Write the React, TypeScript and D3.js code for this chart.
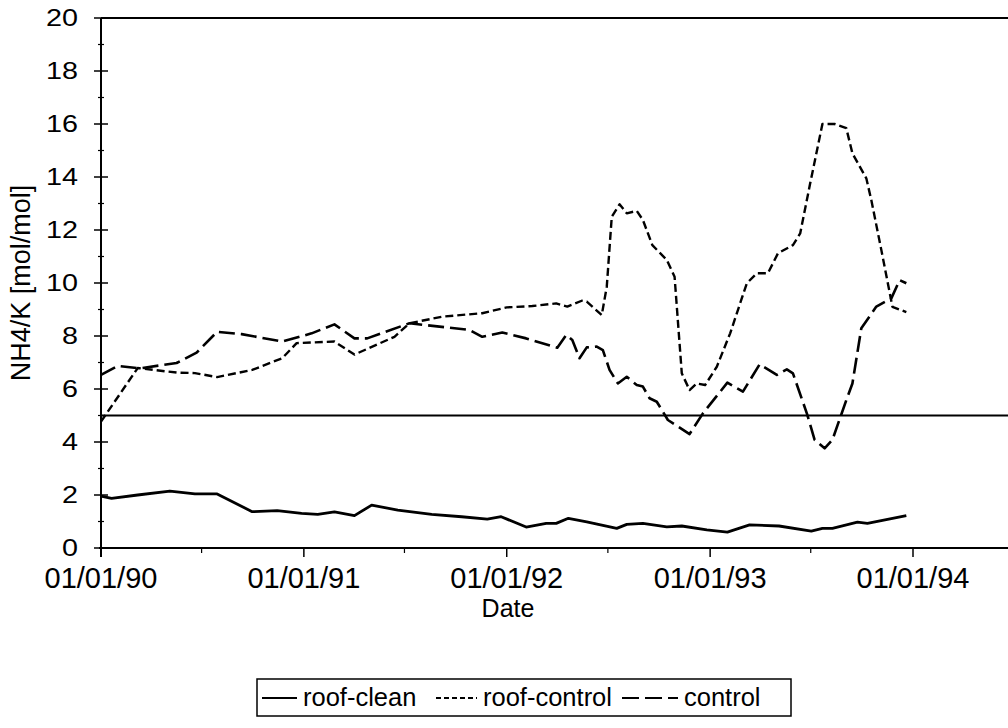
import React from "react";
import * as d3 from "d3";

const roofCleanDates = ["1990-01-01","1990-01-20","1990-03-08","1990-05-05","1990-06-19","1990-07-29","1990-09-30","1990-11-14","1990-12-28","1991-01-26","1991-02-25","1991-04-02","1991-05-03","1991-06-19","1991-08-19","1991-10-12","1991-11-27","1991-12-22","1992-02-05","1992-03-12","1992-03-30","1992-04-21","1992-05-24","1992-07-17","1992-08-04","1992-09-02","1992-10-15","1992-11-11","1992-12-26","1993-02-01","1993-03-13","1993-05-05","1993-07-02","1993-07-22","1993-08-09","1993-09-23","1993-10-11","1993-12-20"];
const roofCleanValues = [1.96,1.87,2.0,2.15,2.04,2.04,1.37,1.41,1.31,1.27,1.36,1.22,1.62,1.43,1.27,1.18,1.09,1.18,0.79,0.93,0.93,1.12,0.99,0.74,0.89,0.93,0.8,0.83,0.68,0.6,0.87,0.83,0.64,0.74,0.74,0.98,0.93,1.22];

const roofControlDates = ["1990-01-01","1990-03-08","1990-05-17","1990-06-19","1990-07-29","1990-09-30","1990-11-23","1990-12-19","1991-02-25","1991-04-02","1991-06-13","1991-07-10","1991-09-07","1991-11-18","1992-01-01","1992-02-16","1992-03-30","1992-04-19","1992-05-15","1992-05-24","1992-06-20","1992-06-29","1992-07-08","1992-07-22","1992-08-04","1992-08-22","1992-09-02","1992-09-19","1992-10-15","1992-10-29","1992-11-11","1992-11-25","1992-12-08","1992-12-23","1993-01-13","1993-02-06","1993-03-08","1993-03-26","1993-04-15","1993-05-03","1993-05-30","1993-06-12","1993-06-30","1993-07-22","1993-08-13","1993-09-03","1993-09-14","1993-10-09","1993-10-18","1993-11-05","1993-11-25","1993-12-20"];
const roofControlValues = [4.77,6.79,6.62,6.6,6.45,6.72,7.16,7.73,7.79,7.3,7.97,8.48,8.73,8.86,9.08,9.13,9.23,9.11,9.33,9.3,8.79,9.86,12.5,12.97,12.63,12.72,12.38,11.43,10.87,10.24,6.59,5.96,6.21,6.15,6.84,8.1,9.99,10.37,10.37,11.12,11.43,11.87,13.76,16.0,16.0,15.84,14.89,13.95,13.13,11.25,9.1,8.9];

const controlDates = ["1990-01-01","1990-01-31","1990-03-12","1990-05-17","1990-06-22","1990-07-29","1990-09-11","1990-11-23","1991-01-15","1991-02-25","1991-04-02","1991-04-25","1991-07-10","1991-10-26","1991-11-18","1991-12-24","1992-02-05","1992-04-01","1992-04-17","1992-04-28","1992-05-11","1992-05-24","1992-06-11","1992-06-22","1992-07-04","1992-07-19","1992-08-04","1992-08-22","1992-09-02","1992-09-14","1992-09-27","1992-10-17","1992-11-25","1992-12-19","1993-02-01","1993-03-01","1993-03-31","1993-05-01","1993-05-19","1993-05-30","1993-06-24","1993-07-08","1993-07-26","1993-08-09","1993-09-03","1993-09-14","1993-09-30","1993-10-27","1993-11-23","1993-12-08","1993-12-20"];
const controlValues = [6.53,6.87,6.78,6.98,7.37,8.16,8.07,7.79,8.1,8.44,7.91,7.91,8.48,8.23,7.97,8.13,7.91,7.56,8.04,7.85,7.16,7.57,7.6,7.47,6.72,6.21,6.46,6.15,6.09,5.65,5.52,4.83,4.3,5.08,6.24,5.9,6.93,6.53,6.74,6.59,5.08,4.08,3.76,4.08,5.58,6.21,8.29,9.11,9.42,10.11,9.99];

const xTickLabels = ["01/01/90", "01/01/91", "01/01/92", "01/01/93", "01/01/94"];
const yTickValues = [0, 2, 4, 6, 8, 10, 12, 14, 16, 18, 20];
const thresholdValue = 5;
const seriesNames = ["roof-clean", "roof-control", "control"];

const parse = d3.timeParse("%Y-%m-%d");
const FONT = "'Liberation Sans', Arial, sans-serif";

export default function App() {
  const W = 1008, H = 728;
  const left = 101, top = 18, bottom = 548, right = 1008;
  const x = d3.scaleTime().domain([parse("1990-01-01")!, parse("1994-01-01")!]).range([left, 913]);
  const y = d3.scaleLinear().domain([0, 20]).range([bottom, top]);

  const mk = (ds: string[], vs: number[]) => ds.map((d, i) => ({ d: parse(d)!, v: vs[i] }));
  const series = [
    { name: seriesNames[0], data: mk(roofCleanDates, roofCleanValues), dash: "none", w: 2.8, lg: "none" },
    { name: seriesNames[1], data: mk(roofControlDates, roofControlValues), dash: "8 4", w: 2.4, lg: "5 3" },
    { name: seriesNames[2], data: mk(controlDates, controlValues), dash: "16 6", w: 2.6, lg: "17 6" },
  ];
  const line = d3.line<{ d: Date; v: number }>().x(p => x(p.d)).y(p => y(p.v));

  const majorX = d3.timeYear.range(parse("1990-01-01")!, parse("1994-01-02")!);
  const minorX = d3.timeMonth.range(parse("1990-01-01")!, parse("1994-06-01")!).filter(d => d.getMonth() === 6);
  const minorY = d3.range(1, 20, 2);

  const legendSample = [[262, 297], [436, 477], [622, 678]];
  const legendText = [303, 483, 684];

  return (
    <svg width={W} height={H} style={{ display: "block", position: "absolute", left: 0, top: 0, background: "#fff" }}>
      <rect width={W} height={H} fill="#fff" />
      <line x1={left} x2={right} y1={top} y2={top} stroke="#000" strokeWidth={2} />
      <line x1={left} x2={left} y1={top} y2={bottom + 9} stroke="#000" strokeWidth={2} />
      <line x1={left - 2} x2={right} y1={bottom} y2={bottom} stroke="#000" strokeWidth={2} />
      {yTickValues.map(v => (
        <g key={"yt" + v}>
          <line x1={left - 7} x2={left + 7} y1={y(v)} y2={y(v)} stroke="#000" strokeWidth={1.5} />
          <text x={78} y={y(v)} dy="0.36em" textAnchor="end" fontFamily={FONT} fontSize={23}
            transform={`translate(${78},0) scale(1.25,1) translate(${-78},0)`}>{v}</text>
        </g>
      ))}
      {minorY.map(v => (
        <line key={"ym" + v} x1={left - 3} x2={left + 3} y1={y(v)} y2={y(v)} stroke="#000" strokeWidth={1.2} />
      ))}
      {majorX.map((d, i) => (
        <g key={"xt" + i}>
          <line x1={x(d)} x2={x(d)} y1={bottom} y2={bottom + 9} stroke="#000" strokeWidth={1.5} />
          <text x={x(d)} y={588} textAnchor="middle" fontFamily={FONT} fontSize={29}>{xTickLabels[i]}</text>
        </g>
      ))}
      {minorX.map((d, i) => (
        <line key={"xm" + i} x1={x(d)} x2={x(d)} y1={bottom} y2={bottom + 5} stroke="#000" strokeWidth={1.2} />
      ))}
      <line x1={left} x2={right} y1={y(thresholdValue)} y2={y(thresholdValue)} stroke="#000" strokeWidth={2} />
      {series.map(s => (
        <path key={s.name} d={line(s.data) || ""} fill="none" stroke="#000" strokeWidth={s.w}
          strokeDasharray={s.dash} strokeLinejoin="round" />
      ))}
      <text transform="translate(30,283) rotate(-90)" textAnchor="middle" fontFamily={FONT} fontSize={27}>NH4/K [mol/mol]</text>
      <text x={508} y={617} textAnchor="middle" fontFamily={FONT} fontSize={25}>Date</text>
      <rect x={257} y={679} width={534} height={37} fill="#fff" stroke="#000" strokeWidth={1.5} />
      {series.map((s, i) => (
        <g key={"lg" + i}>
          <line x1={legendSample[i][0]} x2={legendSample[i][1]} y1={698} y2={698} stroke="#000" strokeWidth={2}
            strokeDasharray={s.lg} />
          <text x={legendText[i]} y={706} fontFamily={FONT} fontSize={25.5}>{s.name}</text>
        </g>
      ))}
    </svg>
  );
}
